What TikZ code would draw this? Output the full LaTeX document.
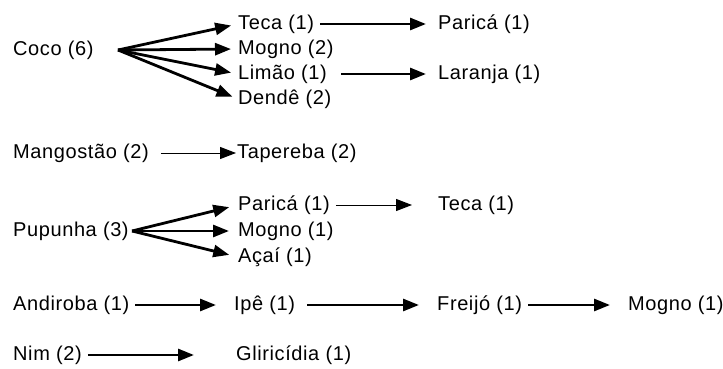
\documentclass[tikz,border=0pt]{standalone}
\usepackage{fontspec}
\setmainfont[LetterSpace=3]{Liberation Sans}
\usepackage{tikz}
\usetikzlibrary{arrows.meta}

\begin{document}
\begin{tikzpicture}[x=1pt,y=-1pt,
   sp/.style={anchor=west, inner sep=0pt, text height=14.5pt, text depth=4pt,
              font=\fontsize{20}{24}\selectfont},
   arr/.style={line width=2.8pt, -{Triangle[length=16pt,width=12pt]}},
   arrfino/.style={line width=1pt, -{Triangle[length=16pt,width=12pt]}}]

   \useasboundingbox (0,0) rectangle (723,369);

   % Coco
   \node[sp] (coco) at (13,50) {Coco (6)};
   \coordinate (cocoO) at (118,50);
   \node[sp] (teca) at (238,24) {Teca (1)};
   \node[sp] (mogno) at (238,49) {Mogno (2)};
   \node[sp] (limao) at (238,74) {Limão (1)};
   \node[sp] (dende) at (238,99) {Dendê (2)};
   \node[sp] (parica) at (438,24) {Paricá (1)};
   \node[sp] (laranja) at (438,74) {Laranja (1)};

   \draw[arr,shorten >=7pt] (cocoO) -- (teca.west);
   \draw[arr,shorten >=7pt] (cocoO) -- (mogno.west);
   \draw[arr,shorten >=7pt] (cocoO) -- (limao.west);
   \draw[arr,shorten >=6pt] (cocoO) -- (dende.west);
   \draw[arr,shorten <=6pt,shorten >=12pt] (teca.east) -- (parica.west);
   \draw[arr,shorten <=14pt,shorten >=12pt] (limao.east) -- (laranja.west);

   % Mangostao
   \node[sp] (mangostao) at (13,153) {Mangostão (2)};
   \node[sp] (tapereba) at (237,153) {Tapereba (2)};
   \draw[arrfino,shorten <=12pt,shorten >=1pt] (mangostao.east) -- (tapereba.west);

   % Pupunha
   \node[sp] (pupunha) at (13,231) {Pupunha (3)};
   \coordinate (pupunhaO) at (132,231);
   \node[sp] (parica2) at (238,205) {Paricá (1)};
   \node[sp] (mogno2) at (238,231) {Mogno (1)};
   \node[sp] (acai) at (238,257) {Açaí (1)};
   \node[sp] (teca2) at (438,205) {Teca (1)};

   \draw[arr,shorten >=9pt] (pupunhaO) -- (parica2.west);
   \draw[arr,shorten >=9pt] (pupunhaO) -- (mogno2.west);
   \draw[arr,shorten >=9pt] (pupunhaO) -- (acai.west);
   \draw[arrfino,shorten <=6pt,shorten >=26pt] (parica2.east) -- (teca2.west);

   % Andiroba
   \node[sp] (andiroba) at (13,305) {Andiroba (1)};
   \node[sp] (ipe) at (234,305) {Ipê (1)};
   \node[sp] (freijo) at (437,305) {Freijó (1)};
   \node[sp] (mogno3) at (628,305) {Mogno (1)};
   \draw[arr,shorten <=6pt,shorten >=18pt] (andiroba.east) -- (ipe.west);
   \draw[arr,shorten <=12pt,shorten >=18pt] (ipe.east) -- (freijo.west);
   \draw[arr,shorten <=6pt,shorten >=18pt] (freijo.east) -- (mogno3.west);

   % Nim
   \node[sp] (nim) at (13,355) {Nim (2)};
   \node[sp] (gliricidia) at (236,355) {Gliricídia (1)};
   \draw[arr,shorten <=6pt,shorten >=42pt] (nim.east) -- (gliricidia.west);

\end{tikzpicture}
\end{document}
